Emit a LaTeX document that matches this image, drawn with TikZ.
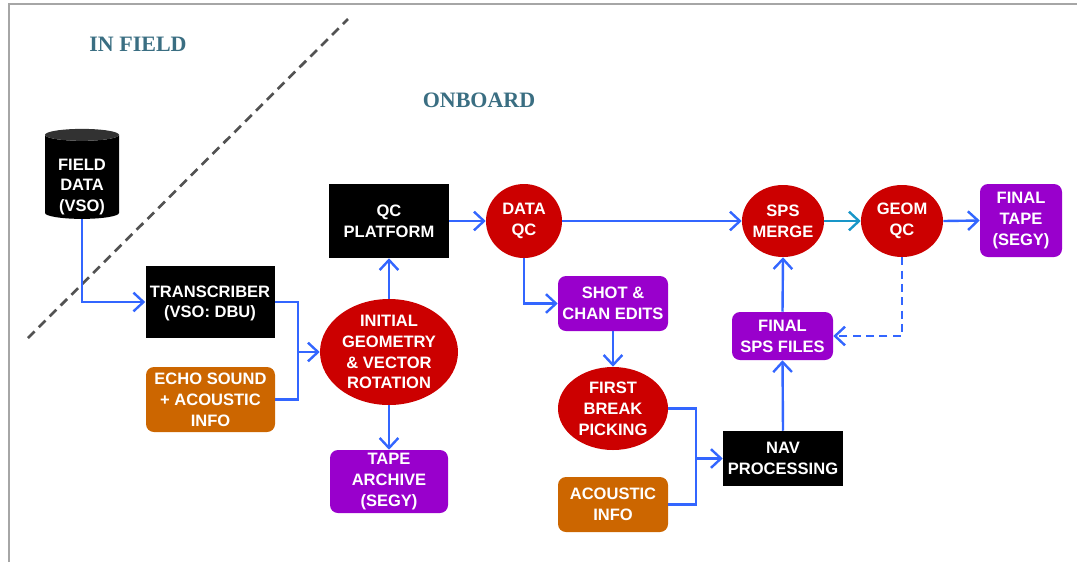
\documentclass[tikz,border=0pt]{standalone}
\usepackage{fontspec}
\setmainfont{Liberation Serif}
\setsansfont{Liberation Sans}
\usepackage{tikz}
\usetikzlibrary{arrows.meta,shapes.geometric}

\definecolor{boxred}{RGB}{204,0,0}
\definecolor{boxpurple}{RGB}{153,0,204}
\definecolor{boxorange}{RGB}{204,102,0}
\definecolor{flowblue}{RGB}{51,102,255}
\definecolor{flowteal}{RGB}{24,150,200}
\definecolor{headteal}{RGB}{58,110,130}
\definecolor{capgray}{RGB}{50,50,50}

\begin{document}
\begin{tikzpicture}[x=0.75pt, y=-0.75pt,
  txt/.style={text=white, align=center, inner sep=0pt,
    font=\sffamily\bfseries\fontsize{12.4}{15.6}\selectfont},
  blackbox/.style={txt, rectangle, fill=black},
  purplebox/.style={txt, rectangle, rounded corners=6pt, fill=boxpurple},
  orangebox/.style={txt, rectangle, rounded corners=6pt, fill=boxorange},
  redball/.style={txt, ellipse, inner sep=-12pt, fill=boxred},
  heading/.style={text=headteal, font=\bfseries\fontsize{16.5}{18}\selectfont},
  line/.style={flowblue, line width=1.8pt},
  flow/.style={line, -{Straight Barb[length=7.5pt, width=14pt]}}]
\useasboundingbox (0,0) rectangle (1077,562);
\draw[black!35, line width=1.5pt] (9,562) -- (9,4) -- (1077,4);
\draw[black!68, line width=2pt, dash pattern=on 7pt off 4.5pt] (28,338) -- (348,19);
\node[heading] (infield) at (138,44) {IN FIELD};
\node[heading] (onboard) at (479,100) {ONBOARD};

\node[txt, cylinder, shape border rotate=90, aspect=0.25, minimum width=55.5pt, minimum height=67.5pt,
  cylinder uses custom fill, cylinder body fill=black, cylinder end fill=capgray] (data) at (82,177)
  {\phantom{FIELD}};
\node[txt] (datatext) at (82,187) {FIELD\\DATA\\(VSO)};
\node[blackbox, minimum width=96.75pt, minimum height=54pt] (trans) at (210,302) {\strut TRANSCRIBER\\(VSO: DBU)};
\node[orangebox, minimum width=96.75pt, minimum height=48.75pt] (echo) at (210.5,399.5) {ECHO SOUND\\+ ACOUSTIC\\INFO};
\node[redball, minimum width=103.5pt, minimum height=79.5pt] (init) at (389,352) {INITIAL\\GEOMETRY\\\& VECTOR\\ROTATION};
\node[blackbox, minimum width=90pt, minimum height=55.5pt] (qcp) at (389,221) {QC\\PLATFORM};
\node[purplebox, minimum width=88.5pt, minimum height=47.25pt] (tape) at (389,481.5) {TAPE\\ARCHIVE\\(SEGY)};
\node[redball, minimum width=57pt, minimum height=55.5pt] (dqc) at (524,221) {DATA\\QC};
\node[purplebox, minimum width=82.5pt, minimum height=41.25pt] (shot) at (613,303.5) {SHOT \&\\CHAN EDITS};
\node[redball, minimum width=82.5pt, minimum height=62.25pt] (fbp) at (613,408.5) {FIRST\\BREAK\\PICKING};
\node[orangebox, minimum width=82.5pt, minimum height=41.25pt] (acou) at (613,504.5) {ACOUSTIC\\INFO};
\node[blackbox, minimum width=90pt, minimum height=41.25pt] (nav) at (783,458.5) {NAV\\PROCESSING};
\node[purplebox, minimum width=75.75pt, minimum height=36pt] (sps) at (782.5,336) {FINAL\\SPS FILES};
\node[redball, minimum width=61.5pt, minimum height=54pt] (merge) at (783,221) {SPS\\MERGE};
\node[redball, minimum width=61.5pt, minimum height=54pt] (geom) at (902,221) {GEOM\\QC};
\node[purplebox, minimum width=61.5pt, minimum height=54.75pt] (ftape) at (1021,220.5) {FINAL\\TAPE\\(SEGY)};

\coordinate (j1) at (298,352);
\coordinate (j2) at (696,458.5);

\draw[flow] (data.south) |- (trans.west);
\draw[line] (trans.east) -| (j1);
\draw[line] (echo.east) -| (j1);
\draw[flow] (j1) -- (init.west);
\draw[flow] (init.north) -- (qcp.south);
\draw[flow] (init.south) -- (tape.north);
\draw[flow] (qcp.east) -- (dqc.west);
\draw[flow] (dqc.east) -- (merge.west);
\draw[flow] (dqc.south) |- (shot.west);
\draw[flow] (shot.south) -- (fbp.north);
\draw[line] (fbp.east) -| (j2);
\draw[line] (acou.east) -| (j2);
\draw[flow] (j2) -- (nav.west);
\draw[flow] (nav.north) -- (sps.south);
\draw[flow] (sps.north) -- (merge.south);
\draw[flow, flowteal] (merge.east) -- (geom.west);
\draw[flow] (geom.east) -- (ftape.west);
\draw[flow, dash pattern=on 6pt off 4pt] (geom.south) |- (sps.east);
\end{tikzpicture}
\end{document}
